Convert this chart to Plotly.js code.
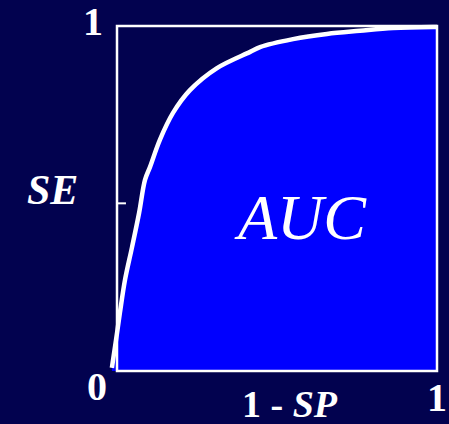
<!DOCTYPE html>
<html>
<head>
<meta charset="utf-8">
<script src="https://cdn.plot.ly/plotly-3.0.1.min.js"></script>
<style>
  html, body { margin: 0; padding: 0; background: #02024f; }
  #chart { width: 449px; height: 424px; }
</style>
</head>
<body>
<div id="chart"></div>
<script>
// ROC curve: false positive rate (1 - SP) against sensitivity (SE)
const fpr = [-0.016, -0.003, 0.009, 0.025, 0.047, 0.069, 0.0875, 0.103, 0.134, 0.175,
             0.228, 0.3125, 0.416, 0.447, 0.55, 0.656, 0.759, 0.8625, 0.9875, 1.0];
const tpr = [0.009, 0.090, 0.168, 0.264, 0.359, 0.458, 0.554, 0.591, 0.670, 0.748,
             0.814, 0.878, 0.925, 0.939, 0.962, 0.977, 0.986, 0.994, 0.997, 0.997];

// Axis end labels and the mid-height tick on the SE axis
const axisMin = 0;
const axisMax = 1;
const seTick = 0.486;

const serif = 'Liberation Serif';
const white = '#ffffff';

const roc = {
  x: fpr,
  y: tpr,
  type: 'scatter',
  mode: 'lines',
  line: { color: white, width: 4.5, shape: 'spline', smoothing: 1 },
  fill: 'tozeroy',
  fillcolor: '#0000ff',
  hoverinfo: 'skip'
};

// labels placed around the frame, in paper units
function label(text, x, y, size) {
  return { text: text, x: x, y: y, xref: 'paper', yref: 'paper',
           xanchor: 'center', yanchor: 'middle', showarrow: false,
           font: { family: serif, size: size, color: white } };
}

const layout = {
  width: 449,
  height: 424,
  font: { family: serif },
  paper_bgcolor: '#02024f',
  plot_bgcolor: '#02024f',
  margin: { l: 101, r: 3, t: 15, b: 43 },
  showlegend: false,
  xaxis: {
    range: [-0.05, 1.028125],
    showgrid: false, zeroline: false, showline: false,
    showticklabels: false, ticks: '', fixedrange: true
  },
  yaxis: {
    range: [-0.02899, 1.03188],
    showgrid: false, zeroline: false, showline: false,
    showticklabels: false, ticks: '', fixedrange: true
  },
  shapes: [
    // square frame of the unit ROC space
    { type: 'rect', xref: 'x', yref: 'y', x0: axisMin, x1: axisMax, y0: axisMin, y1: axisMax,
      line: { color: white, width: 2.5 }, layer: 'above' },
    // tick on the SE axis
    { type: 'line', xref: 'x', yref: 'y', x0: axisMin, x1: 0.028, y0: seTick, y1: seTick,
      line: { color: white, width: 2 }, layer: 'above' }
  ],
  annotations: [
    label('<b>' + axisMax + '</b>', -0.0232, 0.981, 40),
    label('<b>' + axisMin + '</b>', -0.0116, -0.0137, 40),
    label('<b>' + axisMax + '</b>', 0.974, -0.046, 40),
    label('<b>1 - <i>SP</i></b>', 0.548, -0.064, 38),
    label('<b><i>SE</i></b>', -0.142, 0.522, 42),
    { text: '<i>AUC</i>', x: 0.572, y: 0.445, xref: 'x', yref: 'y',
      showarrow: false, font: { family: serif, size: 64, color: white } }
  ]
};

Plotly.newPlot('chart', [roc], layout, { displayModeBar: false, staticPlot: true });
</script>
</body>
</html>
